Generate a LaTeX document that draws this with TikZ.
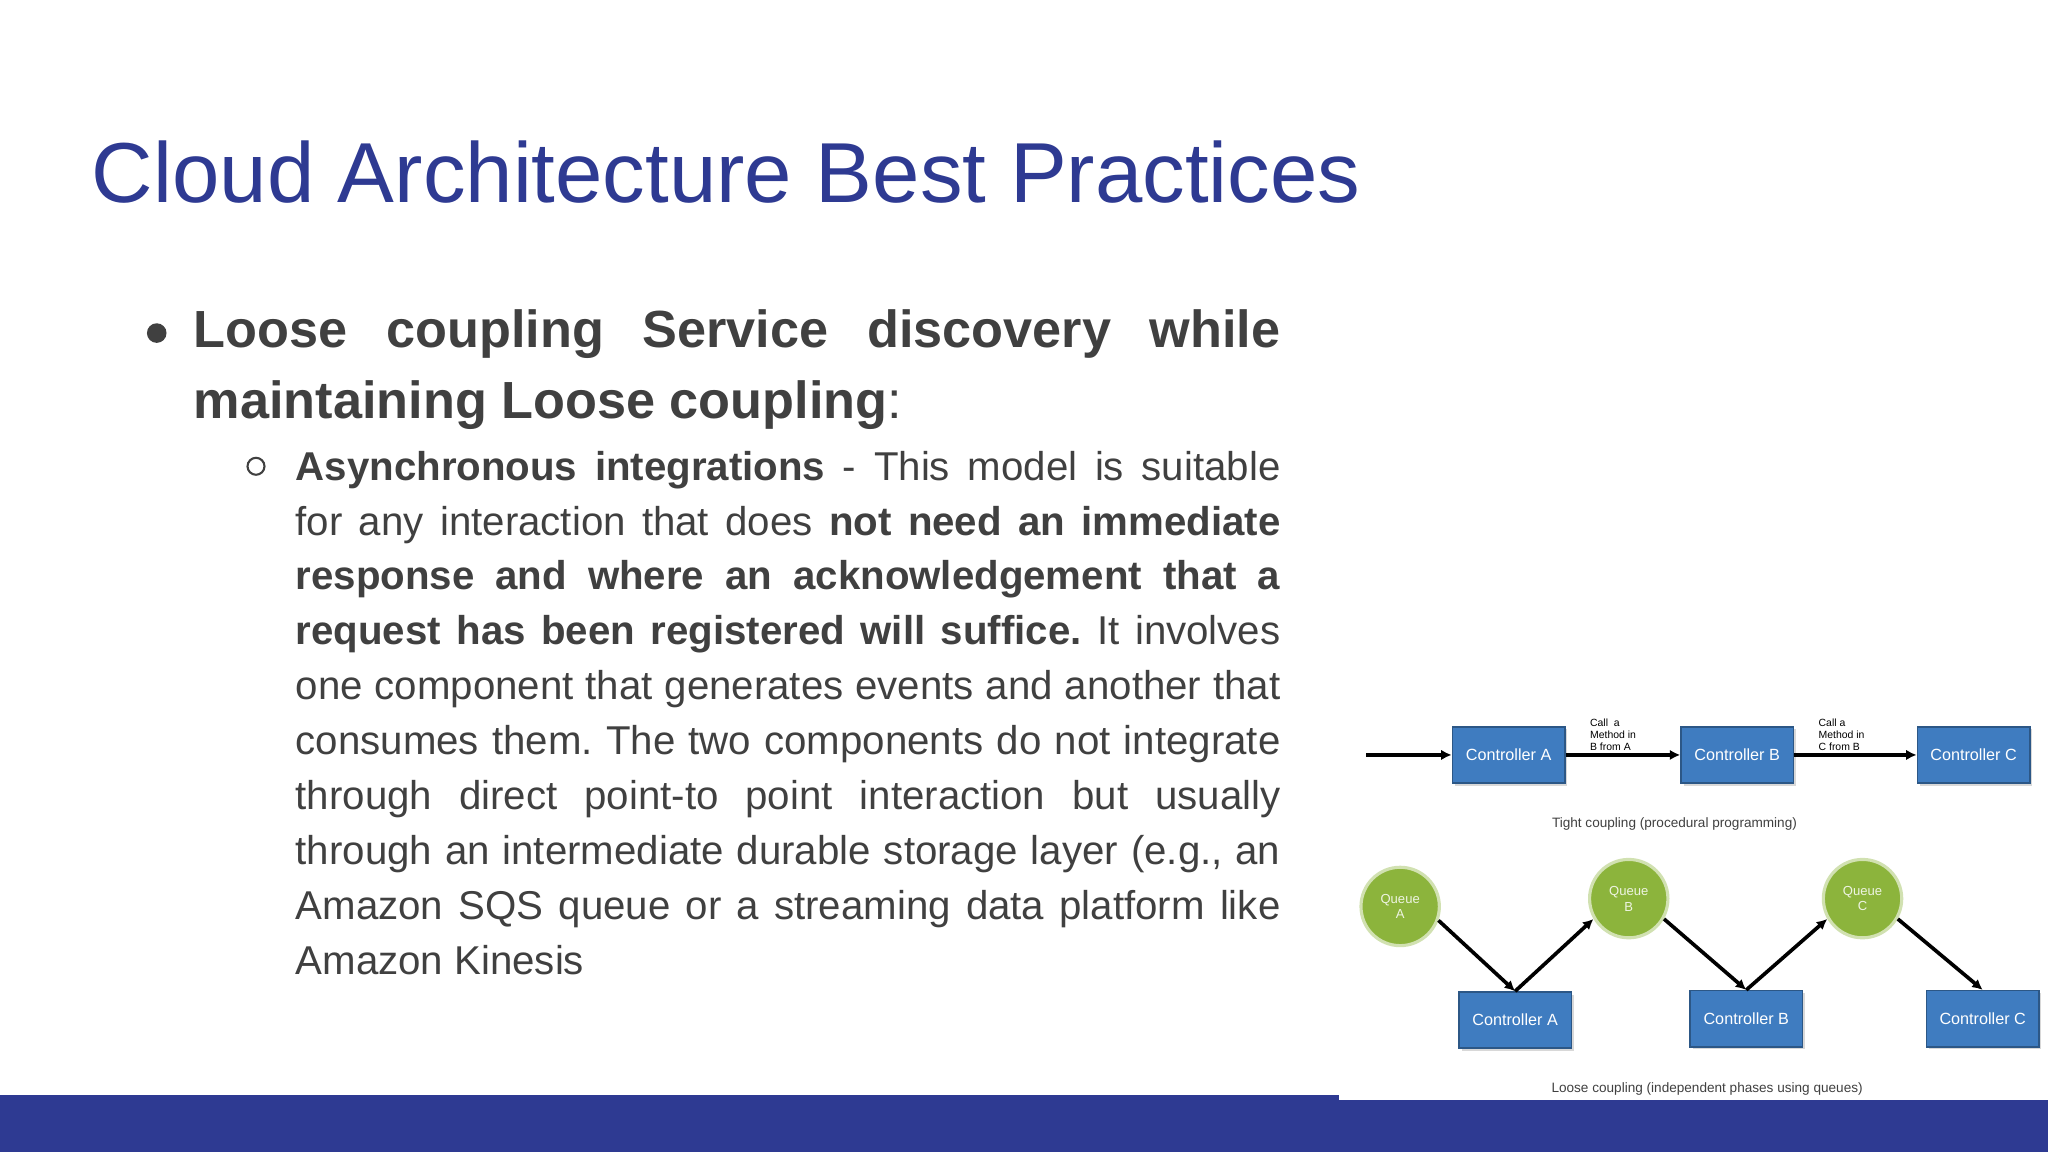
\documentclass[tikz,border=0pt]{standalone}
\usepackage{fontspec}
\setmainfont{Liberation Sans}
\usetikzlibrary{arrows.meta,shadows}
\definecolor{titleblue}{HTML}{2E3A92}
\definecolor{txt}{HTML}{404040}
\definecolor{boxblue}{HTML}{3F7CC0}
\definecolor{qgreen}{HTML}{8CB43C}
\tikzset{
  ctrl/.style={draw=boxblue!70!black,line width=0.6pt,fill=boxblue,text=white,minimum width=43pt,minimum height=21.5pt,inner sep=0pt,font=\fontsize{6.2}{7}\selectfont,drop shadow={shadow xshift=1pt,shadow yshift=-1pt,opacity=0.3}},
  queue/.style={circle,draw=qgreen!40!white,line width=1.2pt,fill=qgreen,text=white!85!qgreen,minimum size=30pt,inner sep=0pt,align=center,font=\fontsize{5}{6}\selectfont},
  arr/.style={-{Latex[length=4pt,width=4pt]},line width=1.4pt},
  lbl/.style={font=\fontsize{4}{4.6}\selectfont,align=left,inner sep=0pt},
  captxt/.style={font=\fontsize{5.2}{6}\selectfont,text=txt,inner sep=0pt}
}
\begin{document}
\begin{tikzpicture}[x=0.5pt,y=0.5pt]
\useasboundingbox (0,0) rectangle (1568,-882);
\fill[white] (0,0) rectangle (1568,-882);
\fill[titleblue] (0,-838) rectangle (1568,-882);
\fill[white] (1025,-518) rectangle (1568,-842);
% title
\node[anchor=base west,inner sep=0pt,text=titleblue,font=\fontsize{32.6}{40}\selectfont] (title) at (70,-155) {Cloud Architecture Best Practices};
% bullet
\fill[txt] (120,-255) circle (7.5);
\node[anchor=north west,inner sep=0pt,text width=416pt,align=justify,text=txt,font=\fontsize{20}{27}\selectfont] (b1) at (148,-237)
{\textbf{Loose coupling Service discovery while}\linebreak\textbf{maintaining Loose coupling}:};
\draw[txt,line width=0.8pt] (196,-357) circle (6.5);
\node[anchor=north west,inner sep=0pt,text width=377pt,align=justify,text=txt,font=\fontsize{15.4}{21}\selectfont] (b2) at (226,-345)
{\frenchspacing\hyphenpenalty=10000\exhyphenpenalty=10000
\textbf{Asynchronous integrations} - This model is suitable\linebreak
for any interaction that does \textbf{not need an immediate}\linebreak
\textbf{response and where an acknowledgement that a}\linebreak
\textbf{request has been registered will suffice.} It involves\linebreak
one component that generates events and another that\linebreak
consumes them. The two components do not integrate\linebreak
through direct point-to point interaction but usually\linebreak
through an intermediate durable storage layer (e.g., an\linebreak
Amazon SQS queue or a streaming data platform like\linebreak
Amazon Kinesis};
% diagram top
\coordinate (in) at (1046,-578);
\node[ctrl] (ca) at (1155,-578) {Controller A};
\node[ctrl] (cb) at (1330,-578) {Controller B};
\node[ctrl] (cc) at (1511,-578) {Controller C};
\draw[arr] (in) -- (ca);
\draw[arr] (ca) -- (cb);
\draw[arr] (cb) -- (cc);
\node[lbl,anchor=south west] (l1) at (1217,-575) {Call\ \ a\\Method in\\B from A};
\node[lbl,anchor=south west] (l2) at (1392,-575) {Call a\\Method in\\C from B};
\node[captxt] (cap1) at (1282,-631) {Tight coupling (procedural programming)};
% diagram bottom
\node[queue] (qa) at (1072,-694) {Queue\\A};
\node[queue] (qb) at (1247,-688) {Queue\\B};
\node[queue] (qc) at (1426,-688) {Queue\\C};
\node[ctrl] (da) at (1160,-781) {Controller A};
\node[ctrl] (db) at (1337,-780) {Controller B};
\node[ctrl] (dc) at (1518,-780) {Controller C};
\draw[arr] (qa.-20) -- (da.north);
\draw[arr] (da.north) -- (qb.-150);
\draw[arr] (qb.-30) -- (db.north);
\draw[arr] (db.north) -- (qc.-150);
\draw[arr] (qc.-30) -- (dc.north);
\node[captxt] (cap2) at (1307,-834) {Loose coupling (independent phases using queues)};
\end{tikzpicture}
\end{document}
